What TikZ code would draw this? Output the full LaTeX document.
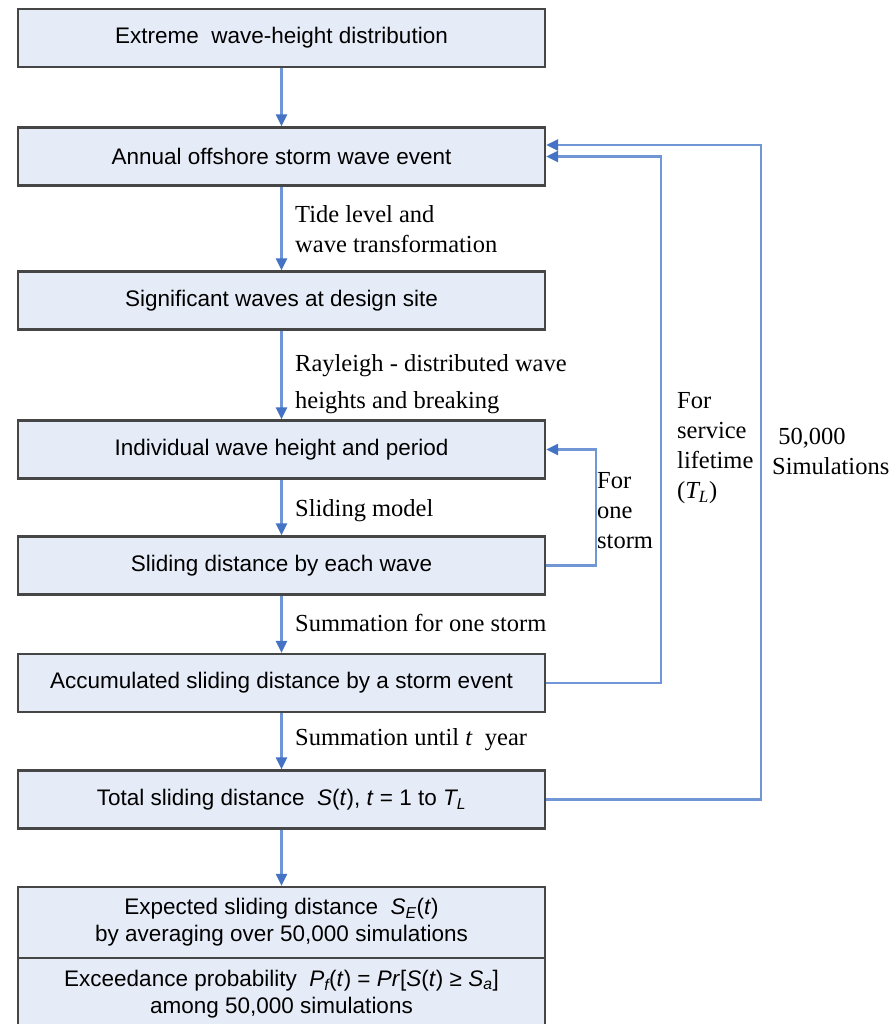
\documentclass[tikz,border=0pt]{standalone}
\usepackage{fontspec}
\setmainfont{Liberation Serif}
\newfontfamily\boxfont{Liberation Sans}
\usetikzlibrary{arrows.meta}
\definecolor{boxfill}{RGB}{230,236,247}
\definecolor{boxline}{RGB}{70,70,70}
\definecolor{flowline}{RGB}{112,150,214}
\definecolor{flowtip}{RGB}{68,114,196}
\begin{document}
\begin{tikzpicture}[x=1pt, y=-1pt,
  box/.style = {draw=boxline, line width=2.2pt, fill=boxfill, minimum width=527pt, minimum height=58pt, inner sep=0pt, align=center, font=\boxfont\fontsize{22.5}{27}\selectfont},
  flow/.style = {draw=flowline, line width=2.2pt, -{Triangle[length=12pt,width=11pt,color=flowtip]}},
  lbl/.style = {anchor=west, inner sep=0pt, align=left, font=\fontsize{24.5}{30}\selectfont}]
            \useasboundingbox (0,0) rectangle (894,1024);
            \node[box] (ewd) at (281.5,38) {Extreme\ \ wave-height distribution};
            \node[box] (annual) at (281.5,156.5) {Annual offshore storm wave event};
            \node[box] (sigwave) at (281.5,300.5) {Significant waves at design site};
            \node[box] (indiv) at (281.5,449.5) {Individual wave height and period};
            \node[box] (slide) at (281.5,565.5) {Sliding distance by each wave};
            \node[box] (accum) at (281.5,683) {Accumulated sliding distance by a storm event};
            \node[box] (total) at (281.5,799.5) {Total sliding distance\ \ \textit{S}(\textit{t}), \textit{t} = 1 to \textit{T\textsubscript{L}}};
            \node[box, minimum height=71pt] (expect) at (281.5,922.5) {Expected sliding distance\ \ \textit{S\textsubscript{E}}(\textit{t})\\by averaging over 50,000 simulations};
            \node[box, minimum height=72pt] (exceed) at (281.5,994) {Exceedance probability\ \ \textit{P\textsubscript{f}}(\textit{t}) = \textit{Pr}[\textit{S}(\textit{t}) ≥ \textit{S\textsubscript{a}}]\\among 50,000 simulations};
            \draw[flow] (ewd) -- (annual);
            \draw[flow] (annual) -- (sigwave);
            \draw[flow] (sigwave) -- (indiv);
            \draw[flow] (indiv) -- (slide);
            \draw[flow] (slide) -- (accum);
            \draw[flow] (accum) -- (total);
            \draw[flow] (total) -- (expect);
            \draw[flow] (slide.east) -- ++(50,0) |- (indiv.east);
            \draw[flow] (accum.east) -- ++(115,0) |- (annual.east);
            \draw[flow] (total.east) -- ++(215,0) |- ([yshift=11.5pt]annual.east);
            \node[lbl] (tide) at (295,229) {Tide level and\\wave transformation};
            \node[lbl, font=\fontsize{24.5}{37}\selectfont] (rayl) at (295,384) {Rayleigh - distributed wave\\heights and breaking};
            \node[lbl] (slmod) at (295,511) {Sliding model};
            \node[lbl] (sumone) at (295,623) {Summation for one storm};
            \node[lbl] (sumt) at (295,740) {Summation until \textit{t}\ \ year};
            \node[lbl] (onestorm) at (597,511) {For\\one\\storm};
            \node[lbl] (life) at (677,448) {For\\service\\lifetime\\(\textit{T\textsubscript{L}})};
            \node[lbl] (nsim) at (772,451) {\ 50,000\\Simulations};
        \end{tikzpicture}
\end{document}
